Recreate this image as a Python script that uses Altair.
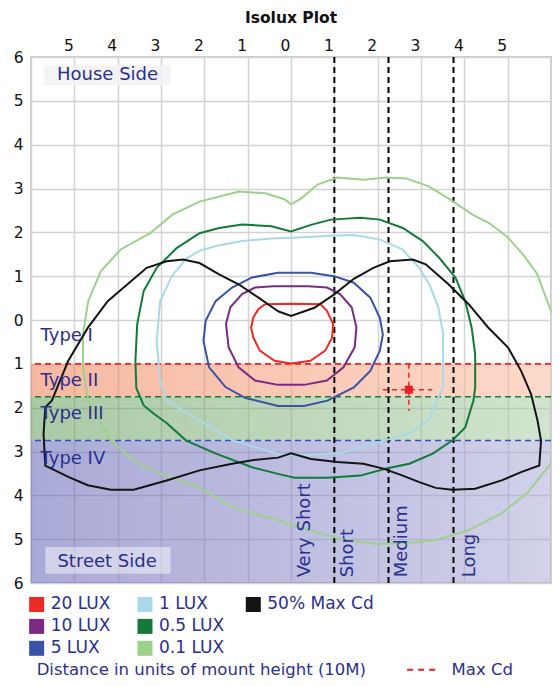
import altair as alt
import pandas as pd

FONT = "DejaVu Sans"
NAVY = "#2b2f8f"

# ---------------- isolux contours (units of mounting height; + house side, - street side)
lux20_x = [-0.60, 0.00, 0.68, 0.83, 0.97, 0.95, 0.79, 0.45, 0.00, -0.38, -0.72, -0.87, -0.92, -0.87, -0.75, -0.60]
lux20_y = [0.36, 0.37, 0.36, 0.21, -0.09, -0.40, -0.70, -0.93, -0.99, -0.93, -0.70, -0.40, -0.17, 0.06, 0.25, 0.36]

lux10_x = [-0.40, 0.40, 0.83, 1.13, 1.40, 1.51, 1.47, 1.21, 0.83, 0.30, -0.30, -0.83, -1.21, -1.44, -1.50, -1.40, -1.13, -0.83, -0.40]
lux10_y = [0.77, 0.77, 0.74, 0.59, 0.29, -0.17, -0.62, -1.08, -1.38, -1.48, -1.48, -1.38, -1.08, -0.62, -0.09, 0.29, 0.59, 0.74, 0.77]

lux5_x = [-0.30, 0.46, 0.99, 1.45, 1.83, 2.05, 2.12, 2.05, 1.83, 1.45, 0.84, 0.30, -0.30, -1.05, -1.51, -1.89, -2.02, -1.97, -1.74, -1.36, -0.90, -0.30]
lux5_y = [1.08, 1.08, 1.00, 0.85, 0.51, 0.05, -0.33, -0.70, -1.16, -1.54, -1.84, -1.96, -1.96, -1.78, -1.53, -1.08, -0.48, -0.02, 0.43, 0.74, 0.97, 1.08]

lux1_x = [-1.74, -1.13, -0.45, 0.15, 0.91, 1.44, 2.04, 2.57, 2.95, 3.20, 3.40, 3.51, 3.51, 3.51, 3.37, 3.17, 2.72, 2.19, 1.21, 0.45, -0.30, -1.36, -2.12, -2.87, -3.02, -3.10, -3.02, -2.75, -2.42, -2.10, -1.74]
lux1_y = [1.69, 1.80, 1.86, 1.88, 1.92, 1.94, 1.84, 1.61, 1.20, 0.80, 0.29, -0.32, -0.92, -1.53, -1.83, -2.29, -2.59, -2.74, -3.02, -3.08, -3.06, -2.74, -2.29, -1.84, -1.39, -0.48, 0.43, 1.00, 1.40, 1.58, 1.69]

lux05_x = [-3.59, -3.55, -3.40, -3.10, -2.64, -2.11, -1.66, -1.13, -0.45, 0.00, 0.46, 0.92, 1.60, 2.05, 2.58, 3.04, 3.42, 3.80, 4.02, 4.17, 4.25, 4.25, 4.21, 4.02, 3.72, 3.27, 2.73, 2.20, 1.60, 0.84, 0.08, -0.30, -0.90, -1.73, -2.42, -2.87, -3.15, -3.40, -3.57, -3.59]
lux05_y = [-0.93, -0.10, 0.66, 1.19, 1.64, 1.98, 2.10, 2.18, 2.14, 2.02, 2.17, 2.29, 2.33, 2.29, 2.10, 1.80, 1.42, 0.96, 0.43, -0.18, -0.78, -1.54, -1.84, -2.45, -2.75, -3.05, -3.28, -3.39, -3.55, -3.60, -3.60, -3.51, -3.36, -3.05, -2.75, -2.35, -2.15, -1.95, -1.55, -0.93]

lux01_x = [-4.68, -4.80, -4.80, -4.68, -4.39, -3.93, -3.25, -2.73, -2.11, -1.20, -0.59, -0.14, 0.00, 0.23, 0.61, 1.07, 1.68, 2.20, 2.66, 3.18, 3.64, 4.18, 4.59, 5.00, 5.39, 5.68, 6.00, 6.18, 6.25, 6.18, 6.00, 5.45, 4.86, 4.09, 3.34, 2.73, 1.98, 1.23, 0.45, -0.30, -1.36, -2.11, -3.02, -3.64, -4.16, -4.68]
lux01_y = [-1.84, -1.09, -0.32, 0.43, 1.11, 1.61, 1.98, 2.41, 2.70, 2.93, 2.89, 2.75, 2.64, 2.77, 3.09, 3.25, 3.20, 3.25, 3.23, 3.05, 2.77, 2.41, 2.20, 1.89, 1.45, 1.05, 0.20, -0.70, -1.84, -2.75, -3.27, -3.95, -4.41, -4.80, -5.02, -5.09, -5.11, -5.02, -4.80, -4.57, -4.27, -3.82, -3.50, -3.20, -2.75, -1.84]

maxcd50_x = [-0.30, 0.00, 0.54, 0.99, 1.45, 1.90, 2.28, 2.81, 3.11, 3.64, 4.10, 4.55, 5.01, 5.31, 5.54, 5.69, 5.77, 5.73, 5.31, 4.86, 4.25, 3.72, 3.34, 2.96, 2.58, 2.13, 1.67, 1.07, 0.46, 0.00, -0.30, -0.90, -1.36, -2.11, -2.87, -3.63, -4.16, -4.69, -5.14, -5.67, -5.71, -5.67, -5.52, -5.14, -4.69, -4.23, -3.78, -3.33, -2.87, -2.49, -2.11, -1.66, -1.20, -0.75, -0.30]
maxcd50_y = [0.20, 0.09, 0.28, 0.58, 0.94, 1.19, 1.34, 1.38, 1.27, 0.81, 0.36, -0.17, -0.63, -1.16, -1.69, -2.30, -2.75, -3.32, -3.47, -3.66, -3.85, -3.87, -3.83, -3.70, -3.55, -3.39, -3.28, -3.24, -3.17, -3.04, -3.14, -3.20, -3.28, -3.43, -3.66, -3.87, -3.87, -3.77, -3.58, -3.32, -2.60, -1.99, -1.84, -0.93, -0.18, 0.43, 0.81, 1.19, 1.34, 1.38, 1.30, 1.04, 0.81, 0.51, 0.20]

levels = ["20 LUX", "10 LUX", "5 LUX", "1 LUX", "0.5 LUX", "0.1 LUX", "50% Max Cd"]
level_colors = ["#ee2a24", "#7b2a85", "#3a52a8", "#a9d9e8", "#137a3c", "#9dd18c", "#141414"]
contour_x = [lux20_x, lux10_x, lux5_x, lux1_x, lux05_x, lux01_x, maxcd50_x]
contour_y = [lux20_y, lux10_y, lux5_y, lux1_y, lux05_y, lux01_y, maxcd50_y]

# ---------------- lateral type bands (street side)
band_names = ["Type II", "Type III", "Type IV"]
band_top = [-1.0, -1.75, -2.75]
band_bottom = [-1.75, -2.75, -6.0]
band_line_colors = ["#e8282c", "#1c7c34", "#3553b0"]
band_stops = [("rgb(239,126,82)", "rgb(250,186,160)"),
              ("rgb(99,157,90)", "rgb(173,206,168)"),
              ("rgb(99,99,181)", "rgb(172,172,216)")]

type_labels = ["Type I", "Type II", "Type III", "Type IV"]
type_label_y = [-0.37, -1.39, -2.15, -3.17]
type_label_x = -5.78

# ---------------- throw (longitudinal) classification
throw_x = [1.0, 2.25, 3.75]
throw_names = ["Very Short", "Short", "Medium", "Long"]
throw_label_x = [0.33, 1.31, 2.57, 4.12]
throw_label_y = -5.87

# ---------------- max candela point
max_cd_x = 2.72
max_cd_y = -1.59
max_cd_h = [2.12, 3.26]
max_cd_v = [-1.0, -2.07]

axis_ticks = list(range(-6, 7))

# ---------------- legend layout (grid of 3 rows)
leg_x0, leg_dx = -5.87, 2.50
leg_y0, leg_dy = -6.49, -0.50
footer_y = -7.98

# ================= tables
rows = []
for name, xs_, ys_ in zip(levels, contour_x, contour_y):
    for i, (x, y) in enumerate(zip(xs_, ys_)):
        rows.append({"level": name, "idx": i, "x": x, "y": y})
contours = pd.DataFrame(rows)

legend_df = pd.DataFrame({
    "level": levels,
    "x": [leg_x0 + leg_dx * (i // 3) for i in range(len(levels))],
    "y": [leg_y0 + leg_dy * (i % 3) for i in range(len(levels))],
})

xs = alt.Scale(domain=[-6, 6], nice=False, zero=False)
ys = alt.Scale(domain=[-6, 6], nice=False, zero=False)
X_AXIS = alt.Axis(orient="top", values=axis_ticks,
                  labelExpr="abs(datum.value) == 6 ? '' : '' + abs(datum.value)",
                  grid=True, gridColor="#d3d3d3", gridWidth=1.5, ticks=False, domain=False,
                  labelFont=FONT, labelFontSize=15.5, labelColor="#111111", labelPadding=4,
                  labelOffset=-6, labelFlush=False, labelOverlap=False, title=None)
Y_AXIS = alt.Axis(orient="left", values=axis_ticks, labelExpr="'' + abs(datum.value)",
                  grid=True, gridColor="#d3d3d3", gridWidth=1.5, ticks=False, domain=False,
                  labelFont=FONT, labelFontSize=15.5, labelColor="#111111", labelPadding=8,
                  labelFlush=False, labelOverlap=False, title=None)


def X(f):
    return alt.X(f, type="quantitative", scale=xs, axis=X_AXIS)


def Y(f):
    return alt.Y(f, type="quantitative", scale=ys, axis=Y_AXIS)


layers = []

# bands
for i in range(3):
    d = pd.DataFrame({"x": [-6.0], "x2": [6.0], "y": [band_top[i]], "y2": [band_bottom[i]]})
    grad = alt.LinearGradient(gradient="linear",
                              stops=[alt.GradientStop(color=band_stops[i][0], offset=0),
                                     alt.GradientStop(color=band_stops[i][1], offset=1)],
                              x1=0, x2=1, y1=0, y2=0)
    layers.append(alt.Chart(d).mark_rect(fill=grad, fillOpacity=0.55, strokeWidth=0).encode(
        x=X("x"), x2="x2", y=Y("y"), y2="y2"))

# band boundary dashed lines
bl = pd.DataFrame({"name": band_names, "y": band_top})
layers.append(alt.Chart(bl).mark_rule(strokeDash=[6, 4], strokeWidth=1.6).encode(
    y=Y("y"),
    stroke=alt.Stroke("name:N", scale=alt.Scale(domain=band_names, range=band_line_colors), legend=None)))

# throw lines
tl = pd.DataFrame({"x": throw_x})
layers.append(alt.Chart(tl).mark_rule(strokeDash=[6, 4], strokeWidth=2, color="#000000").encode(x=X("x")))

# contours
layers.append(alt.Chart(contours).mark_line(strokeWidth=2, clip=True, interpolate="linear").encode(
    x=X("x"), y=Y("y"),
    color=alt.Color("level:N", scale=alt.Scale(domain=levels, range=level_colors), legend=None),
    order=alt.Order("idx:Q")))

# house / street side boxes
hb = pd.DataFrame({"x": [-5.71], "x2": [-2.78], "y": [5.81], "y2": [5.35]})
layers.append(alt.Chart(hb).mark_rect(fill="#f3f3f6", opacity=0.9).encode(x=X("x"), x2="x2", y=Y("y"), y2="y2"))
sb = pd.DataFrame({"x": [-5.67], "x2": [-2.78], "y": [-5.18], "y2": [-5.79]})
layers.append(alt.Chart(sb).mark_rect(fill="#ffffff", opacity=0.45).encode(x=X("x"), x2="x2", y=Y("y"), y2="y2"))

side_df = pd.DataFrame({"t": ["House Side", "Street Side"], "x": [-5.40, -5.39], "y": [5.58, -5.51]})
layers.append(alt.Chart(side_df).mark_text(align="left", baseline="middle", font=FONT, fontSize=18,
                                           color=NAVY).encode(x=X("x"), y=Y("y"), text="t:N"))

# type labels
tdf = pd.DataFrame({"t": type_labels, "y": type_label_y, "x": [type_label_x] * 4})
layers.append(alt.Chart(tdf).mark_text(align="left", baseline="middle", font=FONT, fontSize=18,
                                       color=NAVY).encode(x=X("x"), y=Y("y"), text="t:N"))

# throw labels (vertical)
thdf = pd.DataFrame({"t": throw_names, "x": throw_label_x, "y": [throw_label_y] * 4})
layers.append(alt.Chart(thdf).mark_text(align="left", baseline="middle", angle=270, font=FONT,
                                        fontSize=18, color=NAVY).encode(x=X("x"), y=Y("y"), text="t:N"))

# max candela marker
mh = pd.DataFrame({"x": [max_cd_h[0]], "x2": [max_cd_h[1]], "y": [max_cd_y]})
layers.append(alt.Chart(mh).mark_rule(color="#e8262b", strokeDash=[5, 4], strokeWidth=1.5).encode(
    x=X("x"), x2="x2", y=Y("y")))
mv = pd.DataFrame({"x": [max_cd_x], "y": [max_cd_v[0]], "y2": [max_cd_v[1]]})
layers.append(alt.Chart(mv).mark_rule(color="#e8262b", strokeDash=[5, 4], strokeWidth=1.5).encode(
    x=X("x"), y=Y("y"), y2="y2"))
mp = pd.DataFrame({"x": [max_cd_x], "y": [max_cd_y]})
layers.append(alt.Chart(mp).mark_square(color="#ee1c24", size=64, opacity=1).encode(x=X("x"), y=Y("y")))

# legend
layers.append(alt.Chart(legend_df).mark_square(size=225, opacity=1).encode(
    x=X("x"), y=Y("y"),
    color=alt.Color("level:N", scale=alt.Scale(domain=levels, range=level_colors), legend=None)))
layers.append(alt.Chart(legend_df).mark_text(align="left", baseline="middle", dx=14, font=FONT,
                                             fontSize=17, color=NAVY).encode(
    x=X("x"), y=Y("y"), text="level:N"))
foot = pd.DataFrame({"t": ["Distance in units of mount height (10M)"], "x": [leg_x0], "y": [footer_y]})
layers.append(alt.Chart(foot).mark_text(align="left", baseline="middle", font=FONT, fontSize=16.5,
                                        color=NAVY).encode(x=X("x"), y=Y("y"), text="t:N"))
fr = pd.DataFrame({"x": [leg_x0 + leg_dx * 3.42], "x2": [leg_x0 + leg_dx * 3.70], "y": [footer_y]})
layers.append(alt.Chart(fr).mark_rule(color="#ee1c24", strokeDash=[6, 5], strokeWidth=2).encode(
    x=X("x"), x2="x2", y=Y("y")))
fm = pd.DataFrame({"t": ["Max Cd"], "x": [leg_x0 + leg_dx * 3.83], "y": [footer_y]})
layers.append(alt.Chart(fm).mark_text(align="left", baseline="middle", font=FONT, fontSize=16.5,
                                      color=NAVY).encode(x=X("x"), y=Y("y"), text="t:N"))

chart = alt.layer(*layers).resolve_scale(color="independent", stroke="independent").properties(
    width=520, height=526,
    padding={"left": 5, "top": 2, "right": 0, "bottom": 0},
    title=alt.TitleParams("Isolux Plot", font=FONT, fontSize=15.5, fontWeight="bold", color="#111111",
                          anchor="middle", offset=12),
).configure_view(stroke="#cccccc", strokeWidth=2)

chart.save("out.html", embed_options={"renderer": "svg", "actions": False})
